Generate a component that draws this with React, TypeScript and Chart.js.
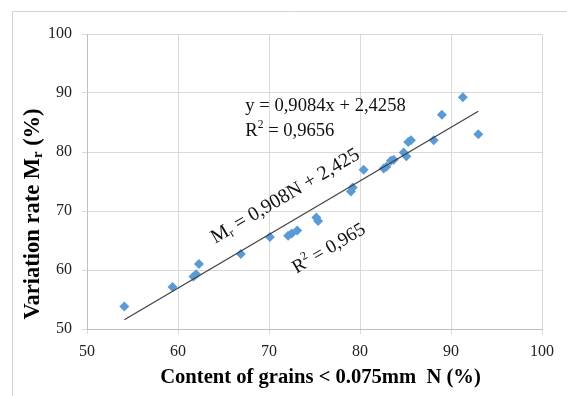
import React, { useEffect, useRef } from "react";
import { Chart, registerables } from "chart.js";

Chart.register(...registerables);

// ---- data ----
const N_VALUES = [54.1, 59.4, 61.7, 62.0, 62.3, 66.9, 70.1, 72.1, 72.5, 73.1, 75.2, 75.4, 79.0, 79.2, 80.4, 82.6, 82.9, 83.4, 83.7, 84.8, 85.1, 85.3, 85.6, 88.1, 89.0, 91.3, 93.0];
const MR_VALUES = [53.8, 57.1, 58.9, 59.3, 61.0, 62.7, 65.6, 65.8, 66.2, 66.7, 68.9, 68.3, 73.3, 74.0, 77.0, 77.2, 77.5, 78.5, 78.7, 79.9, 79.3, 81.7, 82.0, 82.0, 86.3, 89.3, 83.0];
const X_TICKS = [50, 60, 70, 80, 90, 100];
const Y_TICKS = [50, 60, 70, 80, 90, 100];
const SLOPE = 0.9084;
const INTERCEPT = 2.4258;

const EQ_LINE1 = "y = 0,9084x + 2,4258";
const EQ_R2_VALUE = " = 0,9656";
const FIT_EQ_REST = " = 0,908N + 2,425";
const FIT_R2_VALUE = " = 0,965";
const X_TITLE = "Content of grains < 0.075mm  N (%)";
const Y_TITLE_MAIN = "Variation rate M";
const Y_TITLE_SUB = "r";
const Y_TITLE_END = " (%)";

// label anchors in data units
const EQ_ANCHOR = { x: 67.4, y: 87.8 };
const FIT_ANCHOR = { x: 71.8, y: 72.5 };
const FIT_R2_ANCHOR = { x: 76.6, y: 63.6 };

const SERIF = '"Liberation Serif", "Times New Roman", serif';

type Part = { t: string; scale?: number; dy?: number };

function drawRich(
  ctx: CanvasRenderingContext2D,
  parts: Part[],
  x: number,
  y: number,
  size: number,
  weight: string,
  align: "left" | "center"
) {
  let total = 0;
  const widths: number[] = [];
  for (const p of parts) {
    ctx.font = `${weight} ${size * (p.scale || 1)}px ${SERIF}`;
    const w = ctx.measureText(p.t).width;
    widths.push(w);
    total += w;
  }
  let cx = align === "center" ? x - total / 2 : x;
  ctx.textBaseline = "middle";
  ctx.textAlign = "left";
  parts.forEach((p, i) => {
    ctx.font = `${weight} ${size * (p.scale || 1)}px ${SERIF}`;
    ctx.fillText(p.t, cx, y + (p.dy || 0) * size);
    cx += widths[i];
  });
}

const annotPlugin = {
  id: "annot",
  beforeDraw(chart: any) {
    const ctx = chart.ctx as CanvasRenderingContext2D;
    ctx.save();
    ctx.fillStyle = "#ffffff";
    ctx.fillRect(0, 0, chart.width, chart.height);
    ctx.strokeStyle = "#d4d4d4";
    ctx.lineWidth = 1;
    ctx.beginPath();
    ctx.moveTo(12.5, chart.height);
    ctx.lineTo(12.5, 11.5);
    ctx.lineTo(chart.width, 11.5);
    ctx.stroke();
    ctx.restore();
  },
  afterDatasetsDraw(chart: any) {
    const ctx = chart.ctx as CanvasRenderingContext2D;
    const xs = chart.scales.x;
    const ys = chart.scales.y;
    ctx.save();
    ctx.fillStyle = "#111";

    // trendline equation (upper)
    const ex = xs.getPixelForValue(EQ_ANCHOR.x);
    const ey = ys.getPixelForValue(EQ_ANCHOR.y);
    drawRich(ctx, [{ t: EQ_LINE1 }], ex, ey, 18.6, "normal", "left");
    drawRich(
      ctx,
      [{ t: "R" }, { t: "2", scale: 0.62, dy: -0.32 }, { t: EQ_R2_VALUE }],
      ex,
      ey + 25,
      18.6,
      "normal",
      "left"
    );

    // rotated labels along the line
    const p1x = xs.getPixelForValue(60);
    const p1y = ys.getPixelForValue(SLOPE * 60 + INTERCEPT);
    const p2x = xs.getPixelForValue(90);
    const p2y = ys.getPixelForValue(SLOPE * 90 + INTERCEPT);
    const ang = Math.atan2(p2y - p1y, p2x - p1x);

    ctx.save();
    ctx.translate(xs.getPixelForValue(FIT_ANCHOR.x), ys.getPixelForValue(FIT_ANCHOR.y));
    ctx.rotate(ang);
    drawRich(
      ctx,
      [{ t: "M" }, { t: "r", scale: 0.62, dy: 0.25 }, { t: FIT_EQ_REST }],
      0,
      0,
      20,
      "normal",
      "center"
    );
    ctx.restore();

    ctx.save();
    ctx.translate(xs.getPixelForValue(FIT_R2_ANCHOR.x), ys.getPixelForValue(FIT_R2_ANCHOR.y));
    ctx.rotate(ang);
    drawRich(
      ctx,
      [{ t: "R" }, { t: "2", scale: 0.62, dy: -0.32 }, { t: FIT_R2_VALUE }],
      0,
      0,
      19,
      "normal",
      "center"
    );
    ctx.restore();

    // axis titles
    ctx.fillStyle = "#000";
    const xc = (xs.left + xs.right) / 2;
    drawRich(ctx, [{ t: X_TITLE }], xc + 6, 378, 20.6, "bold", "center");

    ctx.save();
    ctx.translate(33, 214);
    ctx.rotate(-Math.PI / 2);
    drawRich(
      ctx,
      [{ t: Y_TITLE_MAIN }, { t: Y_TITLE_SUB, scale: 0.65, dy: 0.25 }, { t: Y_TITLE_END }],
      0,
      0,
      22.5,
      "bold",
      "center"
    );
    ctx.restore();

    ctx.restore();
  },
};

export default function App() {
  const ref = useRef<HTMLCanvasElement | null>(null);

  useEffect(() => {
    if (!ref.current) return;
    const points = N_VALUES.map((x, i) => ({ x, y: MR_VALUES[i] }));
    const xMin = Math.min(...N_VALUES);
    const xMax = Math.max(...N_VALUES);
    const trend = [
      { x: xMin, y: SLOPE * xMin + INTERCEPT },
      { x: xMax, y: SLOPE * xMax + INTERCEPT },
    ];
    const tickFont = { family: SERIF, size: 16 };
    const chart = new Chart(ref.current, {
      type: "scatter",
      data: {
        datasets: [
          {
            data: points,
            pointStyle: "rectRot",
            pointRadius: 5,
            backgroundColor: "#5b9bd5",
            borderColor: "#5b9bd5",
            borderWidth: 0,
            order: 1,
          } as any,
          {
            type: "line",
            data: trend,
            borderColor: "#404040",
            borderWidth: 1.2,
            pointRadius: 0,
            showLine: true,
            fill: false,
            order: 0,
          } as any,
        ],
      },
      options: {
        animation: false,
        responsive: false,
        devicePixelRatio: 1,
        plugins: { legend: { display: false }, tooltip: { enabled: false } },
        layout: { padding: { top: 34, right: 25, left: 0, bottom: 0 } },
        scales: {
          x: {
            type: "linear",
            min: 50,
            max: 100,
            afterBuildTicks: (s: any) => {
              s.ticks = X_TICKS.map((v) => ({ value: v }));
            },
            afterFit: (s: any) => {
              s.height = 67;
            },
            grid: { color: "#d9d9d9", tickLength: 5, drawTicks: true },
            border: { color: "#bfbfbf" },
            ticks: { padding: 8, font: tickFont, color: "#222" },
          },
          y: {
            type: "linear",
            min: 50,
            max: 100,
            afterBuildTicks: (s: any) => {
              s.ticks = Y_TICKS.map((v) => ({ value: v }));
            },
            afterFit: (s: any) => {
              s.width = 87;
            },
            grid: { color: "#d9d9d9", tickLength: 5, drawTicks: true },
            border: { color: "#bfbfbf" },
            ticks: { padding: 10, font: tickFont, color: "#222" },
          },
        },
      } as any,
      plugins: [annotPlugin],
    });
    return () => chart.destroy();
  }, []);

  return (
    <div style={{ position: "absolute", left: 0, top: 0, width: 567, height: 396, background: "#fff" }}>
      <canvas ref={ref} width={567} height={396} style={{ display: "block" }} />
    </div>
  );
}
